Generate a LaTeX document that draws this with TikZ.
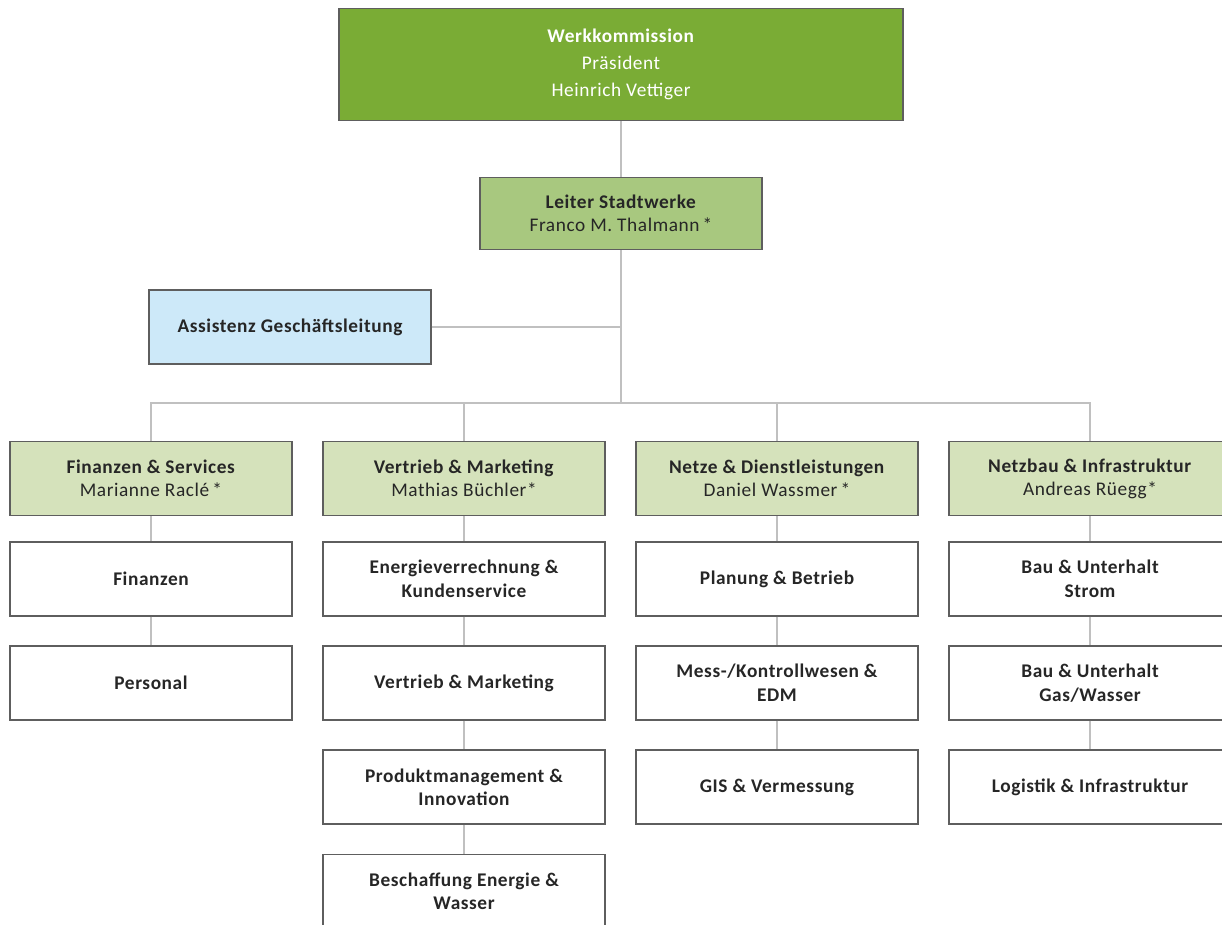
\documentclass[tikz,border=0pt]{standalone}
\usepackage{fontspec}
\setmainfont{Carlito}[LetterSpace=3]
\usepackage{xcolor}
\usetikzlibrary{positioning}

\definecolor{werkgreen}{HTML}{7AAC35}
\definecolor{leitgreen}{HTML}{A8C87F}
\definecolor{abtgreen}{HTML}{D5E2BB}
\definecolor{assblue}{HTML}{CDE9F9}
\definecolor{rahmen}{HTML}{5E5E5E}
\definecolor{linie}{HTML}{C0C0C0}
\definecolor{schrift}{HTML}{262626}

\begin{document}
\begin{tikzpicture}[
  x=0.02cm, y=-0.02cm,
  node distance=0.575cm and 0.6cm,
  every node/.style={font=\fontsize{11}{13.5}\selectfont, text=schrift},
  box/.style={draw=rahmen, line width=0.8pt, align=center, minimum width=5.64cm, minimum height=1.48cm, fill=white, font=\fontsize{11}{13.5}\selectfont\bfseries},
  werk/.style={box, fill=werkgreen, text=white, minimum width=11.28cm, minimum height=2.24cm, font=\fontsize{11}{15.3}\selectfont},
  leit/.style={box, fill=leitgreen, minimum height=1.44cm, font=\fontsize{11}{13}\selectfont},
  ass/.style={box, fill=assblue},
  abt/.style={box, fill=abtgreen, font=\fontsize{11}{13}\selectfont},
  link/.style={draw=linie, line width=1.1pt}
]
\clip (0,0) rectangle (1222,924);

\node[werk] (werk) at (621,64.5) {\textbf{Werkkommission}\\Präsident\\Heinrich Vettiger};
\node[leit] (leiter) at (621,213.5) {\textbf{Leiter Stadtwerke}\\Franco M. Thalmann\,*};
\node[ass] (assist) at (290,327) {Assistenz Geschäftsleitung};
\coordinate (bus) at (621,403);

% Abteilungen
\node[abt] (finserv) at (151,478.5) {\textbf{Finanzen \& Services}\\Marianne Raclé\,*};
\node[abt] (vertmark) at (464,478.5) {\textbf{Vertrieb \& Marketing}\\Mathias Büchler*};
\node[abt] (netze) at (777,478.5) {\textbf{Netze \& Dienstleistungen}\\Daniel Wassmer\,*};
\node[abt] (netzbau) at (1090,478.5) {\textbf{Netzbau \& Infrastruktur}\\Andreas Rüegg*};

% Finanzen & Services
\node[box, below=0.5cm of finserv] (fin) {Finanzen};
\node[box, below=of fin] (pers) {Personal};

% Vertrieb & Marketing
\node[box, below=0.5cm of vertmark] (energie) {Energieverrechnung \&\\Kundenservice};
\node[box, below=of energie] (vertrieb) {Vertrieb \& Marketing};
\node[box, below=of vertrieb] (produkt) {Produktmanagement \&\\Innovation};
\node[box, below=of produkt] (beschaff) {Beschaffung Energie \&\\Wasser};

% Netze & Dienstleistungen
\node[box, below=0.5cm of netze] (planung) {Planung \& Betrieb};
\node[box, below=of planung] (mess) {Mess-/Kontrollwesen \&\\EDM};
\node[box, below=of mess] (gis) {GIS \& Vermessung};

% Netzbau & Infrastruktur
\node[box, below=0.5cm of netzbau] (strom) {Bau \& Unterhalt\\Strom};
\node[box, below=of strom] (gaswasser) {Bau \& Unterhalt\\Gas/Wasser};
\node[box, below=of gaswasser] (logistik) {Logistik \& Infrastruktur};

\draw[link] (werk) -- (leiter);
\draw[link] (leiter) -- (bus);
\draw[link] (assist) -- (assist -| bus);
\foreach \abt in {finserv, vertmark, netze, netzbau}
  \draw[link] (bus) -| (\abt);
\draw[link] (finserv) -- (fin) -- (pers);
\draw[link] (vertmark) -- (energie) -- (vertrieb) -- (produkt) -- (beschaff);
\draw[link] (netze) -- (planung) -- (mess) -- (gis);
\draw[link] (netzbau) -- (strom) -- (gaswasser) -- (logistik);
\end{tikzpicture}
\end{document}
